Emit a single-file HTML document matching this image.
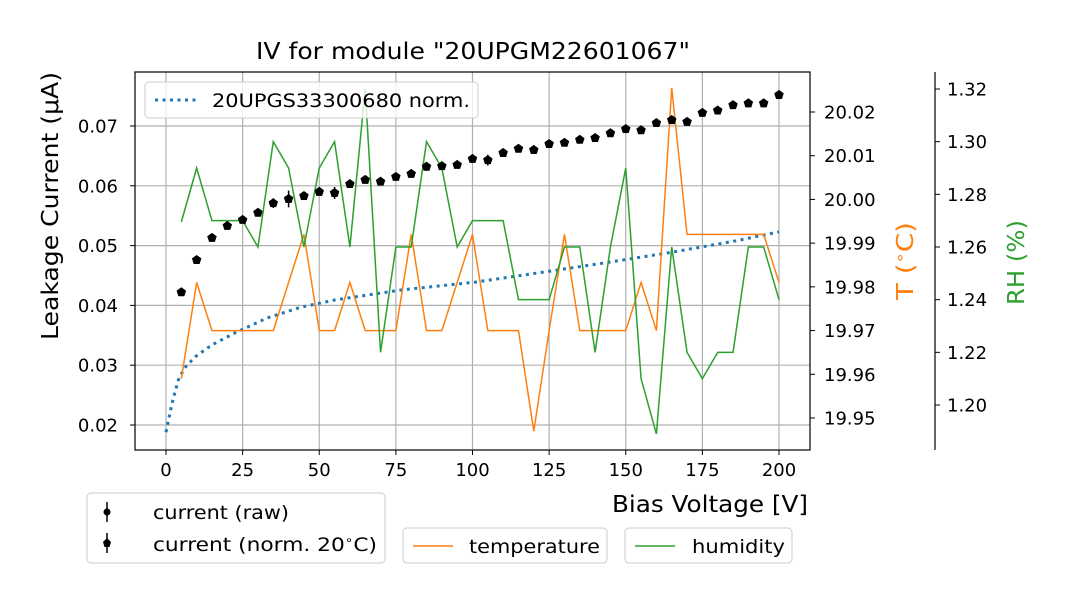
<!DOCTYPE html>
<html><head><meta charset="utf-8"><style>
body{margin:0;background:#fff;}
svg{display:block;font-family:"DejaVu Sans","Liberation Sans",sans-serif;}
</style></head><body>
<svg id="chart" width="1080" height="600" viewBox="0 0 1080 600" xmlns="http://www.w3.org/2000/svg">
<g id="grid"></g>
<g id="series"></g>
<g id="axes"></g>
<text x="256" y="59" font-size="23" textLength="434" lengthAdjust="spacingAndGlyphs">IV for module "20UPGM22601067"</text>
<text transform="translate(58,340) rotate(-90)" font-size="23" textLength="268" lengthAdjust="spacingAndGlyphs">Leakage Current (μA)</text>
<text x="612" y="512" font-size="23" textLength="196" lengthAdjust="spacingAndGlyphs">Bias Voltage [V]</text>
<text transform="translate(913,300) rotate(-90)" font-size="23" fill="#ff7f0e" textLength="78" lengthAdjust="spacingAndGlyphs">T (<tspan font-size="15" dy="-8">∘</tspan><tspan dy="8">C)</tspan></text>
<text transform="translate(1024,305) rotate(-90)" font-size="23" fill="#2ca02c" textLength="85" lengthAdjust="spacingAndGlyphs">RH (%)</text>
<g>
<rect x="145" y="82" width="333" height="36" rx="4" fill="#fff" fill-opacity="0.8" stroke="#ccc"/>
<line x1="155" y1="100" x2="200" y2="100" stroke="#1f77b4" stroke-width="3" stroke-dasharray="3,4.5"/>
<text x="212" y="107" font-size="19" textLength="258" lengthAdjust="spacingAndGlyphs">20UPGS33300680 norm.</text>
</g>
<g>
<rect x="87" y="493" width="298" height="70" rx="4" fill="#fff" stroke="#ccc"/>
<line x1="107" y1="502" x2="107" y2="522" stroke="#000" stroke-width="1.5"/><circle cx="107" cy="512" r="3.5"/>
<text x="153" y="519" font-size="19" textLength="136" lengthAdjust="spacingAndGlyphs">current (raw)</text>
<line x1="107" y1="533" x2="107" y2="553" stroke="#000" stroke-width="1.5"/><polygon points="107,538 111,542 109.5,547 104.5,547 103,542"/>
<text x="153" y="551" font-size="19" textLength="224" lengthAdjust="spacingAndGlyphs">current (norm. 20<tspan font-size="12" dy="-7">∘</tspan><tspan dy="7">C)</tspan></text>
</g>
<g>
<rect x="403" y="528" width="204" height="35" rx="4" fill="#fff" stroke="#ccc"/>
<line x1="413" y1="546" x2="453" y2="546" stroke="#ff7f0e" stroke-width="1.5"/>
<text x="469" y="553" font-size="19" textLength="131" lengthAdjust="spacingAndGlyphs">temperature</text>
</g>
<g>
<rect x="625" y="528" width="167" height="35" rx="4" fill="#fff" stroke="#ccc"/>
<line x1="635" y1="546" x2="675" y2="546" stroke="#2ca02c" stroke-width="1.5"/>
<text x="692" y="553" font-size="19" textLength="93" lengthAdjust="spacingAndGlyphs">humidity</text>
</g>
</svg>
<script>
const voltages=[5,10,15,20,25,30,35,40,45,50,55,60,65,70,75,80,85,90,95,100,105,110,115,120,125,130,135,140,145,150,155,160,165,170,175,180,185,190,195,200];
const currentNorm=[0.0422,0.0476,0.0513,0.0533,0.0543,0.0555,0.0571,0.0578,0.0583,0.0590,0.0588,0.0603,0.0610,0.0607,0.0615,0.0620,0.0632,0.0633,0.0635,0.0645,0.0643,0.0655,0.0662,0.0660,0.0670,0.0672,0.0677,0.0680,0.0688,0.0695,0.0693,0.0705,0.0710,0.0707,0.0722,0.0726,0.0735,0.0738,0.0738,0.0752];
const currentErr=[0.0005,0.0004,0.0003,0.0005,0.0004,0.0004,0.0008,0.0014,0.0006,0.0005,0.0010,0.0006,0.0005,0.0004,0.0004,0.0004,0.0007,0.0003,0.0003,0.0004,0.0009,0.0006,0.0004,0.0004,0.0004,0.0003,0.0003,0.0004,0.0006,0.0007,0.0005,0.0004,0.0005,0.0004,0.0004,0.0004,0.0004,0.0003,0.0003,0.0004];
const temperature=[19.959,19.981,19.970,19.970,19.970,19.970,19.970,19.981,19.992,19.970,19.970,19.981,19.970,19.970,19.970,19.992,19.970,19.970,19.981,19.992,19.970,19.970,19.970,19.947,19.970,19.992,19.970,19.970,19.970,19.970,19.981,19.970,20.0255,19.992,19.992,19.992,19.992,19.992,19.992,19.981];
const humidity=[1.2695,1.290,1.270,1.270,1.270,1.260,1.300,1.290,1.260,1.290,1.300,1.260,1.320,1.220,1.260,1.260,1.300,1.290,1.260,1.270,1.270,1.270,1.240,1.240,1.240,1.260,1.260,1.220,1.260,1.290,1.210,1.189,1.260,1.220,1.210,1.220,1.220,1.260,1.260,1.240];
const refVoltages=[0,2,4,6,9.5,15,22.5,33,44,55,77,101,121,143,164,186,200];
const refCurrent=[0.0188,0.0237,0.0275,0.0295,0.0314,0.0334,0.0354,0.0379,0.0397,0.0409,0.0426,0.0439,0.0454,0.0471,0.0488,0.0508,0.0523];
const xTicks=[0,25,50,75,100,125,150,175,200];
const yTicks=[0.02,0.03,0.04,0.05,0.06,0.07];
const tTicks=[19.95,19.96,19.97,19.98,19.99,20.00,20.01,20.02];
const rhTicks=[1.20,1.22,1.24,1.26,1.28,1.30,1.32];

const L=135,R=810,T=72,B=450;
const X=v=>166+(v-0)*(779-166)/200;
const Y=c=>425-(c-0.02)*(425-126)/0.05;
const YT=t=>418-(t-19.95)*(418-112)/0.07;
const YH=h=>405-(h-1.20)*(405-89)/0.12;
const NS='http://www.w3.org/2000/svg';
const FS=18;
function mk(tag,attrs,parent){const e=document.createElementNS(NS,tag);for(const k in attrs)e.setAttribute(k,attrs[k]);parent.appendChild(e);return e;}
const grid=document.getElementById('grid'),ser=document.getElementById('series'),ax=document.getElementById('axes');
xTicks.forEach(v=>{
 const g=mk('line',{x1:X(v),x2:X(v),y1:T,y2:B,stroke:'#b0b0b0','stroke-width':1.2},grid);
 
 
 mk('line',{x1:X(v),x2:X(v),y1:B,y2:B+5,stroke:'#000','stroke-width':1},ax);
 const t=mk('text',{x:X(v),y:B+26,'font-size':FS,'text-anchor':'middle'},ax);t.textContent=v;
 
 
});
yTicks.forEach(v=>{
 const g=mk('line',{x1:L,x2:R,y1:Y(v),y2:Y(v),stroke:'#b0b0b0','stroke-width':1.2},grid);
 
 
 mk('line',{x1:L-5,x2:L,y1:Y(v),y2:Y(v),stroke:'#000'},ax);
 const t=mk('text',{x:L-17,y:Y(v)+6.5,'font-size':FS,'text-anchor':'end'},ax);t.textContent=v.toFixed(2);
 
 
});
tTicks.forEach(v=>{
 mk('line',{x1:R,x2:R+5,y1:YT(v),y2:YT(v),stroke:'#000'},ax);
 const t=mk('text',{x:R+14,y:YT(v)+6.5,'font-size':FS},ax);t.textContent=v.toFixed(2);
 
 
});
mk('line',{x1:935,x2:935,y1:T,y2:B,stroke:'#000','stroke-width':1.2},ax);
rhTicks.forEach(v=>{
 mk('line',{x1:935,x2:940,y1:YH(v),y2:YH(v),stroke:'#000'},ax);
 const t=mk('text',{x:947,y:YH(v)+6.5,'font-size':FS},ax);t.textContent=v.toFixed(2);
 
 
});
const frame=mk('rect',{x:L,y:T,width:R-L,height:B-T,fill:'none',stroke:'#000','stroke-width':1.2},ax);



const ref=mk('polyline',{points:refVoltages.map((v,i)=>X(v)+','+Y(refCurrent[i])).join(' '),fill:'none',stroke:'#1f77b4','stroke-width':3,'stroke-dasharray':'3,4.5'},ser);


const tl=mk('polyline',{points:voltages.map((v,i)=>X(v)+','+YT(temperature[i])).join(' '),fill:'none',stroke:'#ff7f0e','stroke-width':1.5},ser);


const hl=mk('polyline',{points:voltages.map((v,i)=>X(v)+','+YH(humidity[i])).join(' '),fill:'none',stroke:'#2ca02c','stroke-width':1.5},ser);


voltages.forEach((v,i)=>{
 const x=X(v),y=Y(currentNorm[i]);
 const e=mk('line',{x1:x,x2:x,y1:Y(currentNorm[i]+currentErr[i]),y2:Y(currentNorm[i]-currentErr[i]),stroke:'#000','stroke-width':1.5},ser);
 
 
 const r=5;
 const pts=[0,1,2,3,4].map(k=>{const a=-Math.PI/2+k*2*Math.PI/5;return (x+r*Math.cos(a))+','+(y+r*Math.sin(a));}).join(' ');
 const p=mk('polygon',{points:pts,fill:'#000'},ser);
 
 
});
</script>
</body></html>
